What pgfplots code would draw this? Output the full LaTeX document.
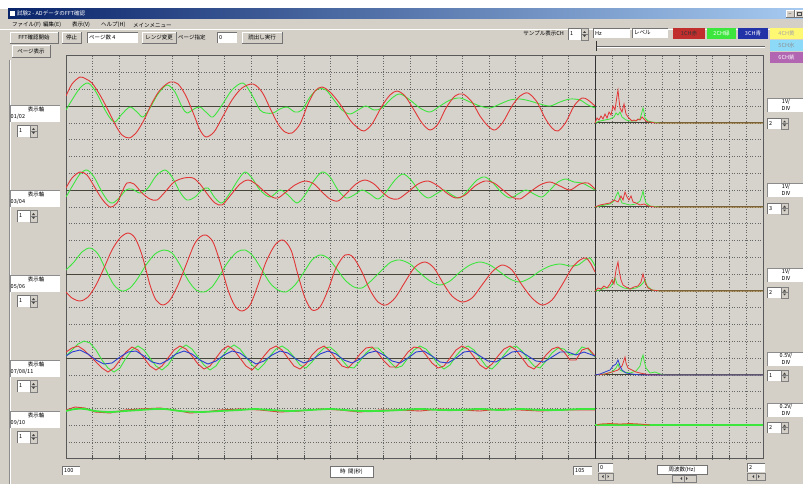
\documentclass[border=0pt]{standalone}
\usepackage{fontspec}
\setmainfont{Noto Sans CJK JP}
\usepackage{pgfplots}
\pgfplotsset{compat=1.18}
\definecolor{winbg}{HTML}{D4D0C8}
\definecolor{plotbg}{HTML}{D6D3CC}
\definecolor{wred}{HTML}{E23636}
\definecolor{wgreen}{HTML}{3DE63D}
\definecolor{wblue}{HTML}{2A3FD0}
\definecolor{tbdark}{HTML}{0A246A}
\definecolor{tblight}{HTML}{A6CAF0}
\definecolor{basel}{HTML}{45453A}
\newcommand\ui{\fontsize{5.5}{6}\selectfont}
\newcommand\Btn[5]{%
  \fill[winbg] (#1,#2) rectangle (#3,#4);
  \draw[white,line width=0.8pt] (#1,#4) -- (#1,#2) -- (#3,#2);
  \draw[black!55,line width=0.8pt] (#1,#4) -- (#3,#4) -- (#3,#2);
  \node[font=\ui,inner sep=0pt] at ({(#1+#3)/2},{(#2+#4)/2}) {#5};}
\newcommand\Fld[5]{%
  \fill[white] (#1,#2) rectangle (#3,#4);
  \draw[black!55,line width=0.8pt] (#1,#4) -- (#1,#2) -- (#3,#2);
  \node[font=\ui,inner sep=0pt,anchor=west] at ({#1+2},{(#2+#4)/2}) {#5};}
\newcommand\Spin[5]{%
  \Fld{#1}{#2}{#3}{#4}{#5}
  \fill[winbg] ({#3-7},#2) rectangle (#3,#4);
  \draw[black!50,line width=0.5pt] ({#3-7},#2) rectangle (#3,#4);
  \draw[black!50,line width=0.5pt] ({#3-7},{(#2+#4)/2}) -- (#3,{(#2+#4)/2});
  \fill[black!75] ({#3-5.2},{(#2+#4)/2-1}) -- ({#3-1.8},{(#2+#4)/2-1}) -- ({#3-3.5},{(#2+#4)/2-2.8}) -- cycle;
  \fill[black!75] ({#3-5.2},{(#2+#4)/2+1}) -- ({#3-1.8},{(#2+#4)/2+1}) -- ({#3-3.5},{(#2+#4)/2+2.8}) -- cycle;}
\newcommand\LLab[2]{%
  \fill[white] (10,#1) rectangle (60,{#1+17});
  \draw[black!45,line width=0.5pt] (10,{#1+17}) -- (10,#1) -- (60,#1);
  \node[font=\ui,inner sep=0pt] at (36,{#1+4.5}) {表示軸};
  \node[font=\ui,inner sep=0pt,anchor=west] at (10.5,{#1+12}) {#2};
  \Spin{17}{#1+20}{37}{#1+32}{1}}
\newcommand\RLab[4]{%
  \fill[white] (767,#1) rectangle (803,{#1+14});
  \draw[black!45,line width=0.5pt] (767,{#1+14}) -- (767,#1) -- (803,#1);
  \node[font=\ui,inner sep=0pt] at (786,{#1+4}) {#2};
  \node[font=\ui,inner sep=0pt] at (786,{#1+10}) {DIV};
  \Spin{767}{#3}{788}{#3+11}{#4}}
\newcommand\Arrows[3]{%
  \fill[winbg] (#1,#3) rectangle (#2,{#3+7});
  \draw[black!50,line width=0.5pt] (#1,#3) rectangle (#2,{#3+7});
  \draw[black!50,line width=0.5pt] ({(#1+#2)/2},#3) -- ({(#1+#2)/2},{#3+7});
  \fill[black!75] ({(#1+#2)/2-2},{#3+2}) -- ({(#1+#2)/2-2},{#3+5}) -- ({(#1+#2)/2-3.6},{#3+3.5}) -- cycle;
  \fill[black!75] ({(#1+#2)/2+2},{#3+2}) -- ({(#1+#2)/2+2},{#3+5}) -- ({(#1+#2)/2+3.6},{#3+3.5}) -- cycle;}
\begin{document}
\begin{tikzpicture}
\useasboundingbox (0pt,0pt) rectangle (803pt,-484pt);
\begin{scope}[x=1pt,y=-1pt]
\fill[winbg] (0,0) rectangle (803,484);
\fill[white] (0,0) rectangle (803,9);
\shade[left color=tbdark,right color=tblight] (8,9) rectangle (803,18.5);
\fill[white] (10,11) rectangle (15,16.5);
\node[font=\ui,text=white,anchor=west,inner sep=0pt] at (17,13.8) {試験2 - ADデータのFFT確認};
\Btn{786}{10.5}{794}{17.5}{\tiny\_}
\Btn{795}{10.5}{803}{17.5}{}
\draw[black!70,line width=0.5pt] (797,12.5) rectangle (801,15.5);
% menu
\node[font=\ui,anchor=west,inner sep=0pt] at (12,25) {ファイル(F)};
\node[font=\ui,anchor=west,inner sep=0pt] at (43,25) {編集(E)};
\node[font=\ui,anchor=west,inner sep=0pt] at (72,25) {表示(V)};
\node[font=\ui,anchor=west,inner sep=0pt] at (101,25) {ヘルプ(H)};
\node[font=\ui,anchor=west,inner sep=0pt] at (133,25) {メインメニュー};
\draw[white] (0,29.5) -- (803,29.5);
% toolbar
\Btn{10}{32}{58}{43}{FFT確認開始}
\Btn{62}{32}{81}{43}{停止}
\Fld{87}{32}{138}{43}{ページ数 4}
\Btn{142}{32}{176}{43}{レンジ変更}
\node[font=\ui,anchor=west,inner sep=0pt] at (178,37.5) {ページ指定};
\Fld{217}{32}{237}{43}{0}
\Btn{242}{32}{282}{43}{読出し実行}
\Btn{12}{45}{50}{57}{ページ表示}
\node[font=\ui,anchor=east,inner sep=0pt] at (564,33.5) {サンプル表示CH};
\Spin{568}{28}{588}{40}{1}
\Fld{593}{28}{630}{38}{Hz}
\Fld{632}{28}{668}{38}{レベル}
\fill[wred!85!black] (673,28.5) rectangle (705,39);
\node[font=\ui,inner sep=0pt,text=black!80] at (689,33.7) {1CH赤};
\fill[wgreen] (707,28.5) rectangle (736,39);
\node[font=\ui,inner sep=0pt,text=white] at (721.5,33.7) {2CH緑};
\fill[wblue!80!black] (738,28.5) rectangle (768,39);
\node[font=\ui,inner sep=0pt,text=white] at (753,33.7) {3CH青};
\fill[yellow!55] (770,28.5) rectangle (803,39);
\node[font=\ui,inner sep=0pt,text=black!35] at (786.5,33.7) {4CH黄};
\fill[cyan!45] (770,40.5) rectangle (803,51);
\node[font=\ui,inner sep=0pt,text=black!45] at (786.5,45.7) {5CH水};
\fill[violet!60] (770,52.5) rectangle (803,63);
\node[font=\ui,inner sep=0pt,text=white] at (786.5,57.7) {6CH紫};
\draw[black!60,line width=0.7pt] (596,46.5) -- (765,46.5);
\draw[white,line width=0.7pt] (596,47.5) -- (765,47.5);
\draw[black!80,line width=0.8pt] (596.5,41) -- (596.5,51);
% left frame
\draw[black!45,line width=0.6pt] (9,60) -- (9,484);
\draw[white,line width=0.6pt] (10,60) -- (10,484);
\LLab{105}{01/02}
\LLab{190}{03/04}
\LLab{275}{05/06}
\LLab{360}{07/08/11}
\LLab{411}{09/10}
\RLab{98}{1V/}{118}{2}
\RLab{183}{1V/}{203}{3}
\RLab{268}{1V/}{287}{2}
\RLab{352}{0.5V/}{370}{1}
\RLab{403}{0.2V/}{422}{2}
% bottom
\Fld{62}{466}{80}{475}{100}
\fill[white] (330,466) rectangle (373,477);
\draw[black!55,line width=0.6pt] (330,466) rectangle (373,477);
\node[font=\ui,inner sep=0pt] at (351.5,471.5) {時\ \ 間(秒)};
\Fld{573}{466}{592}{475}{105}
\Fld{598}{463}{613}{472}{0}
\Arrows{598}{613}{473}
\fill[white] (657,465) rectangle (707,474);
\draw[black!55,line width=0.6pt] (657,465) rectangle (707,474);
\node[font=\ui,inner sep=0pt] at (682,469.5) {周波数(Hz)};
\Arrows{672}{696}{475}
\Fld{747}{463}{765}{472}{2}
\Arrows{747}{765}{473}
\end{scope}
\begin{axis}[
  at={(66pt,-458.8pt)}, anchor=south west, scale only axis,
  width=697pt, height=403.2pt,
  xmin=66, xmax=763, ymin=55.6, ymax=458.8, y dir=reverse,
  axis background/.style={fill=plotbg},
  axis line style={draw=black!65, line width=0.7pt},
  xtick={92.45,118.9,145.35,171.8,198.25,224.7,251.15,277.6,304.05,330.5,356.95,383.4,409.85,436.3,462.75,489.2,515.65,542.1,568.55,611.8,628.6,645.4,662.2,679,695.8,712.6,729.4,746.2},
  ytick={72.4,89.2,106,122.8,139.6,156.4,173.2,190,206.8,223.6,240.4,257.2,274,290.8,307.6,324.4,341.2,358,374.8,391.6,408.4,425.2,442},
  xticklabels={}, yticklabels={},
  grid=major,
  grid style={draw=black!60, line width=0.55pt, dash pattern=on 0.8pt off 1.8pt},
  xtick pos=left, tick align=inside, major tick length=4pt,
  xtick style={draw=black!70, line width=0.6pt},
  ytick style={draw=none},
  clip=true,
]
% baselines and divider
\addplot[basel, line width=0.8pt, no marks] coordinates {(66,106) (595,106)};
\addplot[basel, line width=0.8pt, no marks] coordinates {(66,190) (595,190)};
\addplot[basel, line width=0.8pt, no marks] coordinates {(66,274) (595,274)};
\addplot[basel, line width=0.8pt, no marks] coordinates {(66,358) (595,358)};
\addplot[basel, line width=0.8pt, no marks] coordinates {(595,122.8) (763,122.8)};
\addplot[basel, line width=0.8pt, no marks] coordinates {(595,206.8) (763,206.8)};
\addplot[basel, line width=0.8pt, no marks] coordinates {(595,290.8) (763,290.8)};
\addplot[basel, line width=0.8pt, no marks] coordinates {(595,374.8) (763,374.8)};
\addplot[black!80, line width=0.9pt, no marks] coordinates {(595,55.6) (595,458.8)};
% ---- ch1 ----
\addplot[wgreen, line width=0.9pt, smooth, tension=0.5, no marks] coordinates {
(66,110) (72,100) (80,88) (88,83) (96,92) (104,108) (110,118) (115,122) (122,114) (130,107) (137,112) (143,117) (150,108) (158,94) (167,85) (175,92) (182,107) (187,113) (194,109) (200,107) (207,113) (213,117) (222,105) (232,90) (243,83) (252,95) (260,110) (266,113) (273,113) (280,109) (287,107) (295,112) (302,110) (310,97) (318,89) (326,90) (334,100) (342,110) (350,114) (358,110) (366,106) (374,110) (382,108) (392,98) (400,94) (410,100) (420,108) (430,112) (440,106) (450,100) (460,98) (470,102) (480,106) (490,108) (500,104) (510,100) (520,99) (530,101) (540,104) (550,106) (560,102) (570,99) (580,100) (588,105) (595,108)};
\addplot[wred, line width=0.9pt, smooth, tension=0.5, no marks] coordinates {
(66,96) (72,84) (80,77) (86,79) (92,83) (100,95) (108,110) (116,126) (122,135) (129,138) (136,133) (144,120) (152,103) (160,90) (170,82) (178,84) (186,96) (194,115) (200,130) (206,137) (214,132) (222,118) (232,100) (242,88) (253,84) (262,92) (270,108) (278,124) (285,132) (292,133) (300,124) (308,104) (315,91) (322,87) (330,92) (340,104) (350,120) (358,128) (364,131) (372,124) (382,106) (390,95) (397,91) (405,96) (414,110) (422,123) (430,130) (438,124) (446,108) (455,96) (463,94) (472,102) (480,116) (488,126) (495,130) (503,122) (512,106) (520,96) (528,93) (537,102) (545,118) (552,128) (558,131) (566,122) (574,106) (582,98) (588,100) (595,106)};
% ---- ch2 ----
\addplot[wgreen, line width=0.9pt, smooth, tension=0.5, no marks] coordinates {
(66,197) (73,185) (80,174) (87,170) (94,177) (102,192) (108,201) (113,203) (120,197) (126,190) (132,189) (140,193) (148,188) (156,176) (165,170) (172,177) (180,192) (187,200) (195,197) (202,190) (208,188) (215,198) (222,203) (230,193) (238,180) (245,172) (252,178) (260,190) (270,197) (280,190) (288,195) (297,203) (305,195) (313,182) (322,172) (330,177) (338,190) (346,198) (354,195) (362,190) (370,194) (378,199) (386,192) (395,180) (403,174) (411,180) (420,192) (428,198) (436,194) (444,190) (452,195) (460,198) (468,190) (477,180) (485,177) (493,183) (502,193) (510,198) (518,194) (526,190) (534,194) (542,197) (550,190) (558,182) (566,179) (574,182) (582,183) (588,186) (595,190)};
\addplot[wred, line width=0.9pt, smooth, tension=0.5, no marks] coordinates {
(66,188) (72,178) (80,172) (87,175) (94,186) (102,199) (110,207) (117,203) (122,192) (127,183) (134,184) (142,193) (150,199) (157,200) (165,192) (174,182) (184,178) (193,178) (200,184) (208,195) (215,203) (222,205) (230,196) (240,184) (248,180) (256,184) (265,192) (272,197) (278,198) (286,192) (295,185) (305,181) (314,184) (322,192) (330,199) (338,201) (346,194) (356,184) (365,180) (374,184) (382,192) (390,198) (398,199) (408,192) (418,184) (428,181) (438,186) (448,194) (456,198) (465,195) (475,186) (485,181) (494,183) (503,190) (512,197) (520,199) (530,192) (540,185) (550,182) (560,186) (570,190) (580,184) (588,183) (595,189)};
% ---- ch3 ----
\addplot[wgreen, line width=0.9pt, smooth, tension=0.5, no marks] coordinates {
(66,270) (74,262) (82,252) (90,248) (98,254) (106,270) (114,285) (122,291) (130,288) (138,278) (146,265) (155,254) (164,250) (172,253) (180,265) (188,280) (196,290) (204,292) (212,287) (220,275) (228,262) (237,252) (245,250) (253,256) (262,270) (270,283) (278,290) (286,292) (295,285) (304,272) (312,260) (320,255) (328,258) (336,268) (345,280) (354,287) (362,288) (372,280) (382,270) (391,262) (400,260) (410,264) (420,273) (430,281) (440,285) (450,281) (460,272) (470,265) (480,262) (490,265) (500,272) (510,279) (520,282) (530,278) (540,271) (550,266) (560,264) (570,266) (578,265) (585,260) (590,258) (595,266)};
\addplot[wred, line width=0.9pt, smooth, tension=0.5, no marks] coordinates {
(66,292) (72,298) (80,301) (88,297) (96,285) (104,268) (112,250) (120,238) (128,233) (135,238) (142,255) (150,285) (156,300) (163,305) (170,300) (178,285) (186,265) (194,245) (200,237) (206,235) (213,242) (220,262) (228,290) (235,306) (242,311) (250,305) (258,285) (266,262) (275,245) (283,240) (291,250) (298,275) (305,298) (312,310) (320,307) (328,290) (336,268) (345,255) (353,257) (362,272) (370,290) (378,302) (386,305) (395,298) (405,282) (415,267) (425,262) (434,268) (443,283) (452,296) (462,302) (472,298) (482,285) (492,272) (502,265) (512,270) (522,285) (532,298) (542,305) (552,300) (562,285) (572,268) (580,260) (586,258) (591,264) (595,272)};
% ---- ch4 ----
\addplot[wgreen, line width=0.9pt, no marks] coordinates {
(66,356) (72,350) (78,344) (84,341) (90,343) (96,350) (102,360) (108,368) (114,372) (120,368) (126,358) (132,350) (138,346) (144,350) (150,358) (156,366) (162,370) (168,365) (174,356) (180,349) (186,345) (192,349) (198,357) (204,365) (210,370) (216,366) (222,357) (228,349) (234,345) (240,349) (246,357) (252,365) (258,370) (264,364) (270,356) (276,349) (282,346) (288,350) (294,357) (300,365) (306,368) (312,362) (318,354) (324,348) (330,347) (336,352) (342,360) (348,367) (354,368) (360,361) (366,353) (372,348) (378,348) (384,354) (390,362) (396,368) (402,366) (408,358) (414,350) (420,346) (426,349) (432,356) (438,364) (444,369) (450,365) (456,356) (462,349) (468,346) (474,350) (480,358) (486,366) (492,369) (498,363) (504,355) (510,348) (516,346) (522,351) (528,359) (534,366) (540,368) (546,361) (552,353) (558,348) (564,349) (570,355) (576,354) (582,347) (588,349) (595,357)};
\addplot[wred, line width=0.9pt, no marks] coordinates {
(66,352) (72,348) (78,346) (84,350) (90,356) (96,362) (102,368) (108,372) (114,368) (120,360) (126,352) (132,347) (138,350) (144,358) (150,366) (156,370) (162,366) (168,358) (174,350) (180,346) (186,349) (192,356) (198,364) (204,369) (210,366) (216,358) (222,350) (228,346) (234,350) (240,358) (246,366) (252,370) (258,364) (264,356) (270,349) (276,346) (282,350) (288,358) (294,366) (300,369) (306,364) (312,355) (318,349) (324,346) (330,351) (336,359) (342,366) (348,368) (354,362) (360,354) (366,348) (372,347) (378,353) (384,361) (390,367) (396,367) (402,360) (408,352) (414,347) (420,348) (426,355) (432,363) (438,368) (444,366) (450,358) (456,350) (462,346) (468,349) (474,357) (480,365) (486,369) (492,364) (498,356) (504,349) (510,346) (516,350) (522,358) (528,366) (534,369) (540,363) (546,355) (552,349) (558,347) (564,352) (570,360) (576,360) (582,350) (588,348) (595,356)};
\addplot[wblue, line width=0.9pt, no marks] coordinates {
(66,356) (72,352) (80,350) (88,354) (96,360) (104,364) (112,363) (120,357) (128,352) (136,351) (144,356) (152,362) (160,364) (168,360) (176,354) (184,351) (192,354) (200,360) (208,364) (216,361) (224,355) (232,351) (240,353) (248,359) (256,364) (264,361) (272,355) (280,351) (288,353) (296,359) (304,363) (312,360) (320,354) (328,351) (336,354) (344,360) (352,363) (360,359) (368,353) (376,351) (384,355) (392,361) (400,363) (408,358) (416,352) (424,351) (432,356) (440,362) (448,363) (456,358) (464,352) (472,351) (480,356) (488,361) (496,362) (504,357) (512,352) (520,351) (528,356) (536,361) (544,362) (552,357) (560,352) (568,352) (576,355) (584,352) (595,356)};
% ---- ch5 ----
\addplot[wred, line width=0.9pt, no marks] coordinates {
(66,410) (75,407) (85,408) (95,412) (110,413) (125,410) (140,409) (160,408) (175,410) (190,413) (205,412) (220,410) (240,409) (260,410) (280,412) (300,411) (320,409) (340,410) (360,412) (380,410) (400,410) (420,411) (440,409) (460,410) (480,411) (500,409) (520,410) (540,411) (560,410) (580,410) (595,410)};
\addplot[wgreen, line width=1.8pt, smooth, no marks] coordinates {
(66,411) (75,409) (85,409) (95,411) (110,412) (125,411) (140,410) (155,409) (165,409) (180,411) (200,412) (220,411) (240,410) (255,409) (270,410) (290,411) (310,410) (330,409) (345,410) (360,411) (380,411) (400,410) (420,409) (440,410) (460,410) (480,409) (500,410) (520,409) (540,410) (560,410) (580,409) (595,409)};
% ---- FFT ch1 ----
\addplot[wgreen, line width=0.8pt, no marks] coordinates {
(595,123) (600,121) (605,120) (610,119) (614,117) (616,113) (618,115) (620,112) (622,117) (626,120) (630,121) (635,121) (640,119) (642,112) (643,108) (644,112) (645,118) (648,121) (652,122) (660,123) (763,123)};
\addplot[wred, line width=0.8pt, no marks] coordinates {
(595,123) (597,118) (599,120) (601,116) (603,119) (605,114) (607,118) (609,112) (611,115) (613,106) (615,110) (617,96) (618,90) (619,100) (620,108) (622,112) (624,104) (626,114) (628,117) (630,119) (632,121) (634,120) (636,121) (638,119) (640,120) (642,117) (644,119) (646,121) (648,122) (650,122) (655,123) (763,123)};
% ---- FFT ch2 ----
\addplot[wgreen, line width=0.8pt, no marks] coordinates {
(595,207) (600,206) (605,205) (610,204) (614,201) (616,196) (618,192) (620,198) (622,203) (626,204) (630,205) (636,204) (640,201) (642,195) (643,191) (644,196) (646,203) (650,206) (660,207) (763,207)};
\addplot[wred, line width=0.8pt, no marks] coordinates {
(595,207) (600,205) (605,204) (610,203) (614,200) (618,202) (621,196) (623,200) (625,192) (627,197) (629,200) (631,196) (633,202) (636,203) (640,205) (644,204) (648,206) (655,207) (763,207)};
% ---- FFT ch3 ----
\addplot[wgreen, line width=0.8pt, no marks] coordinates {
(595,291) (600,290) (605,288) (610,287) (613,283) (615,278) (617,284) (620,286) (624,288) (630,289) (636,288) (640,286) (643,283) (645,280) (647,286) (652,290) (660,291) (763,291)};
\addplot[wred, line width=0.8pt, no marks] coordinates {
(595,291) (598,288) (601,289) (604,286) (607,288) (610,284) (612,280) (614,284) (616,270) (618,262) (619,270) (621,280) (623,285) (626,287) (630,289) (634,287) (638,286) (641,282) (643,274) (645,282) (648,288) (652,290) (660,291) (763,291)};
% ---- FFT ch4 ----
\addplot[wgreen, line width=0.8pt, no marks] coordinates {
(595,375) (605,374) (612,372) (616,368) (618,364) (620,370) (624,372) (630,373) (636,371) (640,366) (642,358) (643,355) (644,360) (646,368) (650,373) (655,372) (660,374) (665,375) (763,375)};
\addplot[wred, line width=0.8pt, no marks] coordinates {
(595,375) (605,374) (612,372) (618,370) (622,366) (624,360) (625,357) (626,363) (628,368) (632,370) (636,372) (640,373) (645,374) (650,375) (763,375)};
\addplot[wblue, line width=0.8pt, no marks] coordinates {
(595,375) (600,374) (605,372) (610,370) (613,366) (616,364) (618,360) (620,366) (622,370) (626,373) (632,374) (640,375) (763,375)};
% ---- FFT ch5 ----
\addplot[wgreen, line width=1.6pt, no marks] coordinates {(595,425.2) (763,425.2)};
\addplot[brown!70!red, line width=0.8pt, no marks] coordinates {
(597,425) (600,424) (610,423.5) (620,424) (630,423.5) (640,424) (650,425)};
\end{axis}
\end{tikzpicture}
\end{document}
